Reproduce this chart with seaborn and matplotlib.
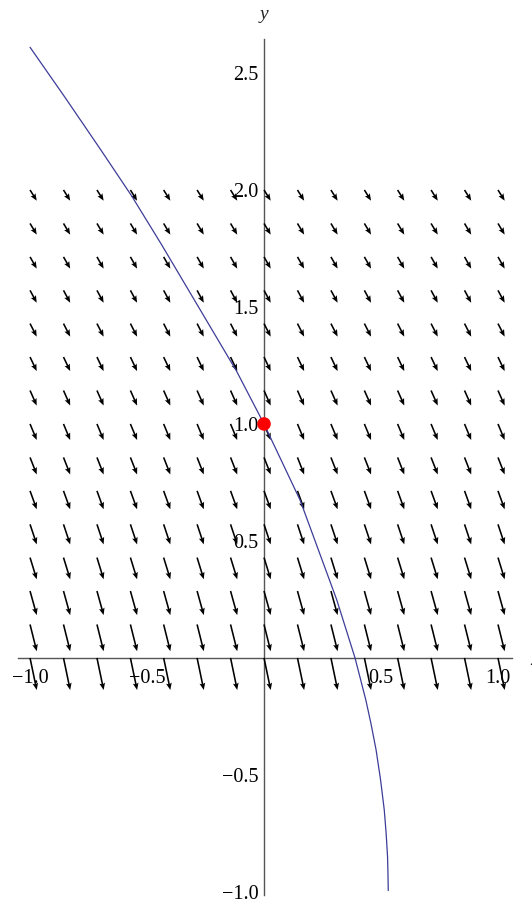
import numpy as np
import pandas as pd
import matplotlib
matplotlib.use('Agg')
import matplotlib.pyplot as plt
from matplotlib.ticker import FixedLocator
import seaborn as sns

# DATA
# slope field grid (tails of the arrows)
grid_x = [-1.0, -0.857, -0.714, -0.571, -0.429, -0.286, -0.143, 0.0,
          0.143, 0.286, 0.429, 0.571, 0.714, 0.857, 1.0]
grid_y = [0.0, 0.143, 0.286, 0.429, 0.571, 0.714, 0.857, 1.0,
          1.143, 1.286, 1.429, 1.571, 1.714, 1.857, 2.0]
# slope dy/dx read per row (arrows do not change along a row)
row_slope = [-4.8, -4.0, -3.6, -3.25, -3.0, -2.75, -2.55, -2.4,
             -2.25, -2.1, -1.95, -1.85, -1.75, -1.67, -1.6]

# solution curve through (0, 1)
curve_x = [-1.0, -0.85, -0.70, -0.566, -0.44, -0.274, -0.117, 0.0,
           0.154, 0.311, 0.389, 0.435, 0.457, 0.479, 0.498, 0.514,
           0.522, 0.528, 0.530, 0.531]
curve_y = [2.61, 2.395, 2.175, 1.975, 1.77, 1.49, 1.225, 1.0,
           0.675, 0.248, 0.0, -0.179, -0.28, -0.393, -0.52, -0.65,
           -0.75, -0.849, -0.93, -0.994]

start_x = [0.0]
start_y = [1.0]

xticks = [-1.0, -0.5, 0.5, 1.0]
xticklabels = ['\u22121.0', '\u22120.5', '0.5', '1.0']
yticks = [-1.0, -0.5, 0.5, 1.0, 1.5, 2.0, 2.5]
yticklabels = ['\u22121.0', '\u22120.5', '0.5', '1.0', '1.5', '2.0', '2.5']


# STYLE
sns.set_style('white')
plt.rcParams['font.family'] = ['Liberation Serif', 'DejaVu Serif']

fig = plt.figure(figsize=(5.32, 9.05), dpi=100)
ax = fig.add_axes([0, 0, 1, 1])

# SLOPE FIELD
X, Y = np.meshgrid(grid_x, grid_y)
U = np.ones_like(X)
V = np.repeat(np.array(row_slope)[:, None], len(grid_x), axis=1)
ax.quiver(X, Y, U, V, angles='xy', scale_units='xy', scale=35,
          pivot='tail', color='black', width=0.003,
          headwidth=3.6, headlength=4.4, headaxislength=3.8, zorder=3)

# SOLUTION CURVE + START POINT
curve = pd.DataFrame({'x': curve_x, 'y': curve_y})
sns.lineplot(data=curve, x='x', y='y', sort=False, estimator=None,
             color='#3d3d99', linewidth=0.9, ax=ax, zorder=4)
sns.scatterplot(x=start_x, y=start_y, color='#ff0000', s=95,
                edgecolor='none', ax=ax, zorder=6)

# AXES (crossing at the origin)
ax.set_xlim(-1.128, 1.145)
ax.set_ylim(-1.056, 2.812)
ax.set_aspect('equal')

for side in ['top', 'right']:
    ax.spines[side].set_visible(False)
ax.spines['left'].set_position(('data', 0))
ax.spines['bottom'].set_position(('data', 0))
ax.spines['left'].set_bounds(-1.013, 2.645)
ax.spines['bottom'].set_bounds(-1.05, 1.06)
for side in ['left', 'bottom']:
    ax.spines[side].set_color('#555555')
    ax.spines[side].set_linewidth(1.0)
    ax.spines[side].set_zorder(2)

ax.xaxis.set_major_locator(FixedLocator(xticks))
ax.yaxis.set_major_locator(FixedLocator(yticks))
ax.xaxis.set_minor_locator(FixedLocator(
    [v / 10 for v in range(-10, 11) if v % 5 != 0]))
ax.yaxis.set_minor_locator(FixedLocator(
    [v / 10 for v in range(-10, 27) if v % 5 != 0]))
ax.set_xticklabels(xticklabels)
ax.set_yticklabels(yticklabels)

ax.tick_params(which='major', direction='in', length=6, width=0.9,
               color='#555555', labelsize=14.5, labelcolor='black')
ax.tick_params(which='minor', direction='in', length=3, width=0.8,
               color='#555555')
ax.tick_params(axis='x', which='major', pad=8)
ax.tick_params(axis='y', which='major', pad=4)

ax.set_xlabel('')
ax.set_ylabel('')
ax.text(0.0, 2.748, 'y', fontsize=14, style='italic',
        ha='center', va='center')
ax.text(1.137, -0.01, 'x', fontsize=14, style='italic',
        ha='left', va='center', clip_on=False)

plt.savefig('out.png', dpi=100)
